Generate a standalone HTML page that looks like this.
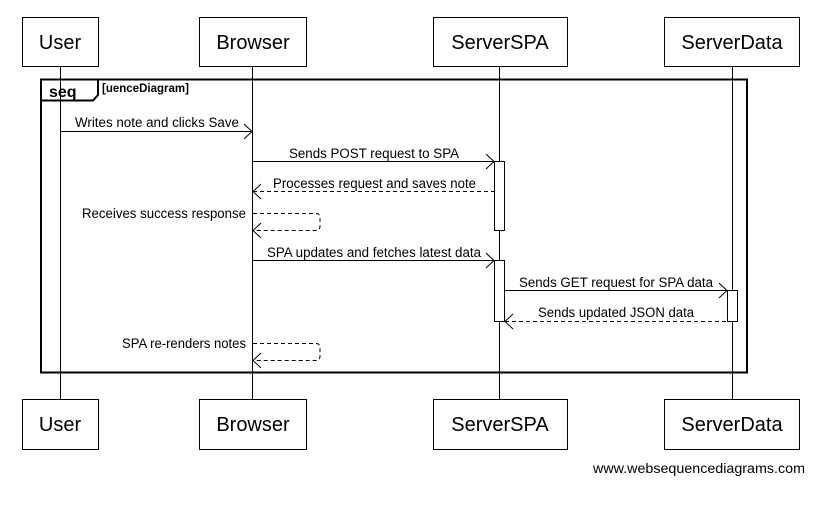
<!DOCTYPE html>
<html><head><style>body{margin:0;background:#fff}svg{display:block}text{font-family:"Liberation Sans",Arial,sans-serif}</style></head><body>
<svg width="829" height="507" xmlns="http://www.w3.org/2000/svg">
<g stroke="#000" stroke-width="1" fill="none">
<line x1="60.5" y1="66" x2="60.5" y2="399"/>
<line x1="252.5" y1="66" x2="252.5" y2="399"/>
<line x1="499.5" y1="66" x2="499.5" y2="399"/>
<line x1="732.5" y1="66" x2="732.5" y2="399"/>
<rect x="22.5" y="17.5" width="76" height="49" fill="#fff"/>
<rect x="199.5" y="17.5" width="107" height="49" fill="#fff"/>
<rect x="433.5" y="17.5" width="134" height="49" fill="#fff"/>
<rect x="664.5" y="17.5" width="135" height="49" fill="#fff"/>
<rect x="22.5" y="399.5" width="76" height="50" fill="#fff"/>
<rect x="199.5" y="399.5" width="107" height="50" fill="#fff"/>
<rect x="433.5" y="399.5" width="134" height="50" fill="#fff"/>
<rect x="664.5" y="399.5" width="135" height="50" fill="#fff"/>
<rect x="41" y="79.5" width="706" height="293" stroke-width="2"/>
<path d="M41 100.5 H93 L98 95 V79.5" stroke-width="2"/>
<rect x="494.5" y="161.5" width="10" height="69" fill="#fff"/>
<rect x="494.5" y="260.5" width="10" height="61" fill="#fff"/>
<rect x="727.5" y="290.5" width="10" height="31" fill="#fff"/>
<line x1="61" y1="131.5" x2="252" y2="131.5"/><path d="M244 124 L252 131.5 L244 139"/>
<line x1="253" y1="161.5" x2="494" y2="161.5"/><path d="M486 154 L494 161.5 L486 169"/>
<line x1="253" y1="191.5" x2="494" y2="191.5" stroke-dasharray="4,3"/><path d="M261 184 L253 191.5 L261 199"/>
<path d="M253 213.5 H316 Q320 213.5 320 218 V226 Q320 230.5 316 230.5 H253" stroke-dasharray="4,3"/><path d="M261 223 L253 230.5 L261 238"/>
<line x1="253" y1="260.5" x2="494" y2="260.5"/><path d="M486 253 L494 260.5 L486 268"/>
<line x1="505" y1="290.5" x2="727" y2="290.5"/><path d="M719 283 L727 290.5 L719 298"/>
<line x1="505" y1="321.5" x2="727" y2="321.5" stroke-dasharray="4,3"/><path d="M513 314 L505 321.5 L513 329"/>
<path d="M253 343.5 H316 Q320 343.5 320 348 V356 Q320 360.5 316 360.5 H253" stroke-dasharray="4,3"/><path d="M261 353 L253 360.5 L261 368"/>
</g>
<g font-size="20" text-anchor="middle" fill="#000">
<text x="60" y="49">User</text><text x="253" y="49">Browser</text><text x="500" y="49">ServerSPA</text><text x="732" y="49">ServerData</text>
<text x="60" y="431">User</text><text x="253" y="431">Browser</text><text x="500" y="431">ServerSPA</text><text x="732" y="431">ServerData</text>
</g>
<text x="49" y="97" font-size="16" font-weight="bold">seq</text>
<text x="102" y="92" font-size="11.5" font-weight="bold">[uenceDiagram]</text>
<g font-size="13.5" fill="#000">
<text x="75" y="127" textLength="164" lengthAdjust="spacingAndGlyphs">Writes note and clicks Save</text>
<text x="289" y="158" textLength="170" lengthAdjust="spacingAndGlyphs">Sends POST request to SPA</text>
<text x="273" y="188" textLength="203" lengthAdjust="spacingAndGlyphs">Processes request and saves note</text>
<text x="82" y="218" textLength="164" lengthAdjust="spacingAndGlyphs">Receives success response</text>
<text x="267" y="257" textLength="214" lengthAdjust="spacingAndGlyphs">SPA updates and fetches latest data</text>
<text x="519" y="287" textLength="194" lengthAdjust="spacingAndGlyphs">Sends GET request for SPA data</text>
<text x="538" y="317" textLength="156" lengthAdjust="spacingAndGlyphs">Sends updated JSON data</text>
<text x="122" y="348" textLength="124" lengthAdjust="spacingAndGlyphs">SPA re-renders notes</text>
<text x="593" y="473" textLength="212" lengthAdjust="spacingAndGlyphs">www.websequencediagrams.com</text>
</g>
</svg>
</body></html>
